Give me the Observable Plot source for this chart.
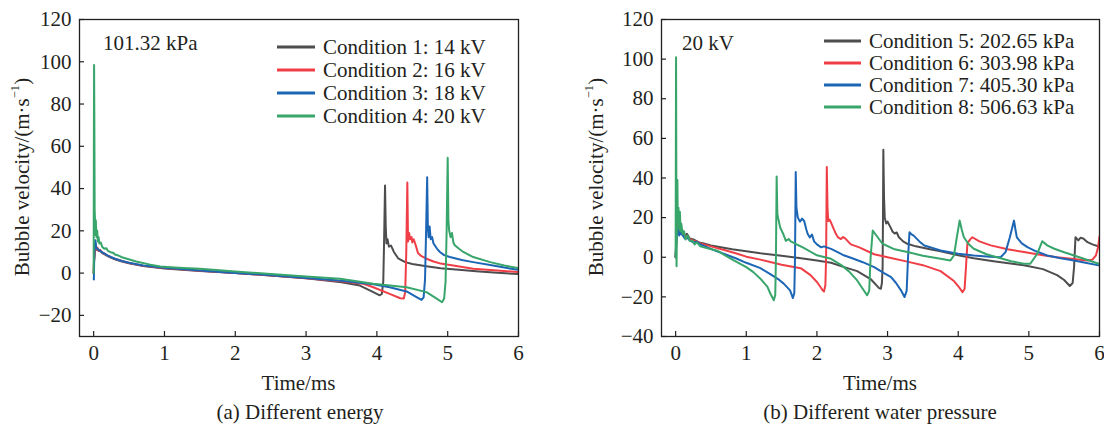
<!DOCTYPE html>
<html><head><meta charset="utf-8">
<script src="https://cdn.jsdelivr.net/npm/d3@7"></script>
<script src="https://cdn.jsdelivr.net/npm/@observablehq/plot@0.6"></script>
<style>
body{margin:0;background:#fff;}
#wrap{position:relative;width:1104px;height:425px;font-family:"Liberation Serif","Times New Roman",serif;color:#231f20;overflow:hidden;background:#fff;}
.abs{position:absolute;white-space:nowrap;font-size:21px;line-height:1;}
.c{transform:translate(-50%,-50%);}
.l{transform:translate(0,-50%);}
.rot{transform:translate(-50%,-50%) rotate(-90deg);}
.sw{position:absolute;height:3px;transform:translateY(-50%);}
sup{font-size:0.6em;line-height:0;vertical-align:0.75em;}
.plot{position:absolute;top:0;}
</style></head><body><div id="wrap"></div>
<script>
// ---------- data ----------
const xTicks = [0, 1, 2, 3, 4, 5, 6];
const yTicksA = [-20, 0, 20, 40, 60, 80, 100, 120];
const yTicksB = [-40, -20, 0, 20, 40, 60, 80, 100, 120];
const namesA = ["Condition 1: 14 kV", "Condition 2: 16 kV", "Condition 3: 18 kV", "Condition 4: 20 kV"];
const namesB = ["Condition 5: 202.65 kPa", "Condition 6: 303.98 kPa", "Condition 7: 405.30 kPa", "Condition 8: 506.63 kPa"];
const colors = ["#4d4d4f", "#ef3e46", "#1c66b5", "#38a56b"];

// Panel (a): [time ms, velocity m/s]
const c1 = [[0,0],[0.005,5],[0.015,9],[0.025,14],[0.035,11],[0.05,12],[0.07,10.5],[0.09,11],[0.12,9.5],[0.15,9],[0.2,8],[0.25,7.2],[0.3,6.5],[0.4,5.5],[0.5,4.6],[0.7,3.3],[1.0,2.2],[1.5,1],[2.0,0],[2.5,-1.1],[3.0,-2.4],[3.5,-4.3],[3.76,-5.9],[3.95,-9],[4.04,-10.5],[4.07,-9.8],[4.09,-4],[4.1,12],[4.115,41.5],[4.125,22],[4.135,14],[4.15,16],[4.17,12.5],[4.2,13],[4.24,10],[4.3,7],[4.4,5.2],[4.5,4.3],[4.7,3.2],[4.9,2.3],[5.2,1.5],[5.4,0.9],[5.7,0.2],[6.0,-0.5]];
const c2 = [[0,0],[0.005,6],[0.015,10],[0.025,13],[0.035,11],[0.05,12],[0.07,10.5],[0.09,10.8],[0.12,9.8],[0.15,9.2],[0.2,8.2],[0.25,7.4],[0.3,6.8],[0.4,5.7],[0.5,4.8],[0.7,3.5],[1.0,2.4],[1.5,1.1],[2.0,0],[2.5,-1.1],[3.0,-2.4],[3.5,-3.9],[3.8,-5],[3.95,-6.7],[4.18,-9.8],[4.33,-11.9],[4.38,-12],[4.4,-9],[4.415,10],[4.43,42.9],[4.44,15],[4.455,19],[4.47,16],[4.49,17],[4.5,14.5],[4.52,16],[4.55,13],[4.58,9.5],[4.63,8],[4.7,6.8],[4.8,5.5],[4.9,4.5],[5.1,3.5],[5.36,2.1],[5.7,1.2],[6.0,0.5]];
const c3 = [[0,-2.7],[0.003,-3],[0.008,8],[0.015,12],[0.025,15.6],[0.035,12],[0.05,11.5],[0.07,11],[0.09,10.5],[0.12,9.8],[0.15,9.3],[0.2,8.3],[0.25,7.5],[0.3,6.8],[0.4,5.7],[0.5,4.9],[0.7,3.6],[1.0,2.5],[1.5,1.2],[2.0,0.1],[2.5,-1],[3.0,-2.3],[3.5,-3.6],[3.95,-5.3],[4.18,-6.7],[4.42,-8.7],[4.56,-11.4],[4.63,-12.7],[4.66,-11.5],[4.68,-3],[4.695,20],[4.71,45.4],[4.72,22],[4.73,17],[4.745,22],[4.76,16],[4.78,17],[4.8,14],[4.85,11.5],[4.89,10],[4.95,8.5],[5.03,7.6],[5.2,6.2],[5.36,5.2],[5.6,3.8],[5.8,2.6],[6.0,1.6]];
const c4 = [[0,0],[0.003,60],[0.006,98.5],[0.01,70],[0.014,30],[0.02,24],[0.025,18],[0.03,25],[0.04,17],[0.05,20],[0.06,15],[0.07,17],[0.08,14],[0.1,14.5],[0.12,12.5],[0.15,11.5],[0.18,11.8],[0.2,10.5],[0.24,9.9],[0.28,9.5],[0.3,8.8],[0.35,8.3],[0.4,7.5],[0.47,6.8],[0.6,5.5],[0.8,4],[0.94,3.1],[1.2,2.5],[1.5,2],[2.0,0.8],[2.5,-0.4],[3.0,-1.6],[3.48,-2.7],[3.95,-5],[4.42,-6.7],[4.7,-9],[4.85,-12.2],[4.92,-13.8],[4.95,-12],[4.97,-4],[4.985,20],[5.0,54.6],[5.01,25],[5.02,20.3],[5.04,17],[5.06,19],[5.08,14.5],[5.1,13.2],[5.16,11.5],[5.22,10],[5.36,7.6],[5.6,5.2],[5.8,3.6],[6.0,2.4]];

// Panel (b)
const c5 = [[0,0],[0.01,10],[0.02,18],[0.035,15],[0.05,17.5],[0.07,13],[0.09,14],[0.1,13.3],[0.13,11],[0.16,11.8],[0.2,9.5],[0.25,9],[0.33,7.5],[0.4,7],[0.5,6],[0.6,5.3],[0.8,4],[1.0,3],[1.2,2],[1.5,0.8],[1.8,-0.6],[2.0,-1.6],[2.2,-2.8],[2.34,-4.5],[2.57,-7],[2.76,-11],[2.88,-15.6],[2.905,-15.9],[2.92,-13],[2.93,-5],[2.935,20],[2.94,54.2],[2.95,30],[2.96,20],[2.98,17],[3.0,18],[3.04,15.2],[3.07,13],[3.1,12],[3.13,12.5],[3.16,10.1],[3.22,8],[3.28,6.8],[3.4,5.5],[3.6,4],[3.75,3],[4.0,1],[4.22,-0.5],[4.5,-2],[4.93,-4],[5.2,-6],[5.4,-9],[5.5,-11.5],[5.58,-14.5],[5.62,-13],[5.64,-5],[5.66,10.1],[5.7,8.5],[5.73,9.8],[5.77,9.5],[5.83,7.6],[5.9,6.5],[5.99,5.4]];
const c6 = [[0,0],[0.01,8],[0.02,14],[0.035,17],[0.05,13],[0.07,14],[0.1,12],[0.13,11],[0.16,10.5],[0.2,9.3],[0.25,8.3],[0.3,8],[0.35,7],[0.45,6],[0.55,5],[0.7,3.5],[0.85,2],[1.0,0.3],[1.2,-1.2],[1.5,-3.8],[1.77,-5.5],[1.91,-9],[2.0,-12.5],[2.05,-15],[2.08,-16.7],[2.1,-17.3],[2.12,-14],[2.13,0],[2.14,45.5],[2.15,25],[2.16,18.3],[2.18,19],[2.2,17.5],[2.23,15],[2.27,11.7],[2.3,10],[2.34,9.2],[2.37,10.2],[2.4,9.5],[2.48,6.5],[2.6,5],[2.81,1.5],[3.0,0],[3.28,-2.2],[3.5,-4],[3.75,-7],[3.94,-12],[4.02,-15.5],[4.06,-17.6],[4.09,-16],[4.11,-5],[4.13,7],[4.17,9],[4.2,10.1],[4.3,8],[4.46,6],[4.7,4],[4.93,2.6],[5.2,1],[5.4,0],[5.6,-0.8],[5.83,-1.6],[5.9,-1.2],[5.95,1],[5.98,5],[6.0,10.5]];
const c7 = [[0,0],[0.01,8],[0.02,13],[0.035,15],[0.05,11],[0.07,12.5],[0.1,11],[0.13,9.5],[0.16,10],[0.2,8.5],[0.25,7.5],[0.3,7.8],[0.35,6.5],[0.45,5],[0.55,3.5],[0.7,1.5],[0.85,-0.5],[1.0,-2.8],[1.2,-5.5],[1.34,-8.5],[1.45,-11],[1.53,-13.3],[1.62,-16.7],[1.66,-20.6],[1.68,-18],[1.69,0],[1.7,43],[1.71,25],[1.73,20],[1.76,18],[1.79,19.5],[1.82,18.3],[1.85,14],[1.87,11.7],[1.9,10],[1.93,11.5],[1.96,8],[2.0,6.5],[2.06,5],[2.1,5.5],[2.2,4.2],[2.3,2.5],[2.38,1],[2.5,-0.5],[2.65,-2.5],[2.81,-5],[2.95,-8],[3.05,-10],[3.12,-13],[3.19,-16.7],[3.24,-20.1],[3.27,-17],[3.29,0],[3.31,12.6],[3.34,11.5],[3.37,10.9],[3.45,8],[3.52,5.9],[3.75,3.4],[4.0,1.8],[4.22,0.9],[4.45,0.3],[4.6,0],[4.67,2.6],[4.73,10],[4.79,18.5],[4.81,14],[4.83,10],[4.9,7],[4.98,5.1],[5.1,3],[5.26,0.9],[5.45,-0.5],[5.64,-1.6],[5.8,-2.8],[5.99,-4.1]];
const c8 = [[0,0],[0.003,50],[0.006,101],[0.01,40],[0.013,-4.5],[0.017,10],[0.025,39],[0.03,20],[0.04,25],[0.05,14],[0.06,23],[0.07,13],[0.08,17],[0.1,11.7],[0.12,13],[0.14,9],[0.17,11],[0.2,8.3],[0.24,8.3],[0.27,6.5],[0.3,7.5],[0.35,5.5],[0.45,4.5],[0.59,3.3],[0.7,1],[0.83,-1.7],[1.0,-5],[1.1,-7.5],[1.2,-10.8],[1.3,-15],[1.34,-18.3],[1.39,-21.7],[1.41,-19],[1.42,0],[1.43,40.8],[1.44,22],[1.45,20],[1.48,15],[1.52,12],[1.56,8.3],[1.6,9.2],[1.63,8],[1.7,6.7],[1.8,5],[2.0,1],[2.2,-0.8],[2.35,-4.1],[2.45,-7],[2.57,-11.7],[2.65,-16],[2.71,-19.2],[2.74,-17],[2.76,0],[2.79,13.5],[2.86,10.1],[2.93,6.8],[3.1,4],[3.28,2.6],[3.5,0.8],[3.75,-0.8],[3.89,-1.6],[3.94,0.9],[3.98,10],[4.02,18.5],[4.05,14],[4.08,10.1],[4.15,6.5],[4.22,4.3],[4.4,1.5],[4.55,0],[4.75,-2],[4.93,-3.3],[5.02,-3.3],[5.12,1.8],[5.19,8.1],[5.26,6],[5.36,4.3],[5.5,2.5],[5.64,0.9],[5.8,-1],[5.99,-3.3]];

// ---------- drawing ----------
const wrap = document.getElementById("wrap");
const ink = "#231f20";

function panel(series, names, yDomain, yTicks, left, marginLeft, marginRight) {
  const rows = series.flatMap((s, i) => s.map(([t, v]) => ({t, v, name: names[i]})));
  const svg = Plot.plot({
    width: 552, height: 395,
    marginLeft, marginRight, marginTop: 19, marginBottom: 59,
    style: {fontFamily: '"Liberation Serif", serif', fontSize: "21px", color: ink, background: "transparent", overflow: "visible"},
    x: {domain: [-0.2, 6], label: null},
    y: {domain: yDomain, label: null},
    color: {domain: names, range: colors},
    marks: [
      Plot.line(rows, {x: "t", y: "v", z: "name", stroke: "name", strokeWidth: 2, clip: true}),
      Plot.frame({stroke: ink, strokeWidth: 1.3}),
      Plot.axisX(xTicks, {tickSize: 0, tickPadding: 9, label: null}),
      Plot.axisX(xTicks, {tickSize: 5, dy: -5, fill: "none", stroke: ink, strokeWidth: 1.2, label: null}),
      Plot.axisY(yTicks, {tickSize: 0, tickPadding: 8, label: null}),
      Plot.axisY(yTicks, {tickSize: 5, dx: 5, fill: "none", stroke: ink, strokeWidth: 1.2, label: null})
    ]
  });
  svg.classList.add("plot");
  svg.style.left = left + "px";
  wrap.appendChild(svg);
}

panel([c1, c2, c3, c4], namesA, [-30, 120], yTicksA, 0, 79, 34);
panel([c5, c6, c7, c8], namesB, [-40, 120], yTicksB, 552, 109, 5);

function addText(html, x, y, cls) {
  const d = document.createElement("div");
  d.className = "abs " + cls;
  d.style.left = x + "px";
  d.style.top = y + "px";
  d.innerHTML = html;
  wrap.appendChild(d);
}
function legend(names, lineX0, lineX1, textX, ys) {
  names.forEach((n, i) => {
    const s = document.createElement("div");
    s.className = "sw";
    s.style.left = lineX0 + "px";
    s.style.width = (lineX1 - lineX0) + "px";
    s.style.top = ys[i] + "px";
    s.style.background = colors[i];
    wrap.appendChild(s);
    addText(n, textX, ys[i], "l");
  });
}

legend(namesA, 277, 315, 323, [47, 70, 93, 116]);
legend(namesB, 824, 861, 869, [41, 63, 85, 107]);

addText("101.32 kPa", 103, 43, "l");
addText("20 kV", 682, 43, "l");

const ylab = "Bubble velocity/(m·s<sup>−1</sup>)";
addText(ylab, 21.5, 177, "rot");
addText(ylab, 595.5, 177, "rot");
addText("Time/ms", 298.5, 383, "c");
addText("Time/ms", 880, 383, "c");
addText("(a) Different energy", 300, 412, "c");
addText("(b) Different water pressure", 880, 412, "c");
</script></body></html>
